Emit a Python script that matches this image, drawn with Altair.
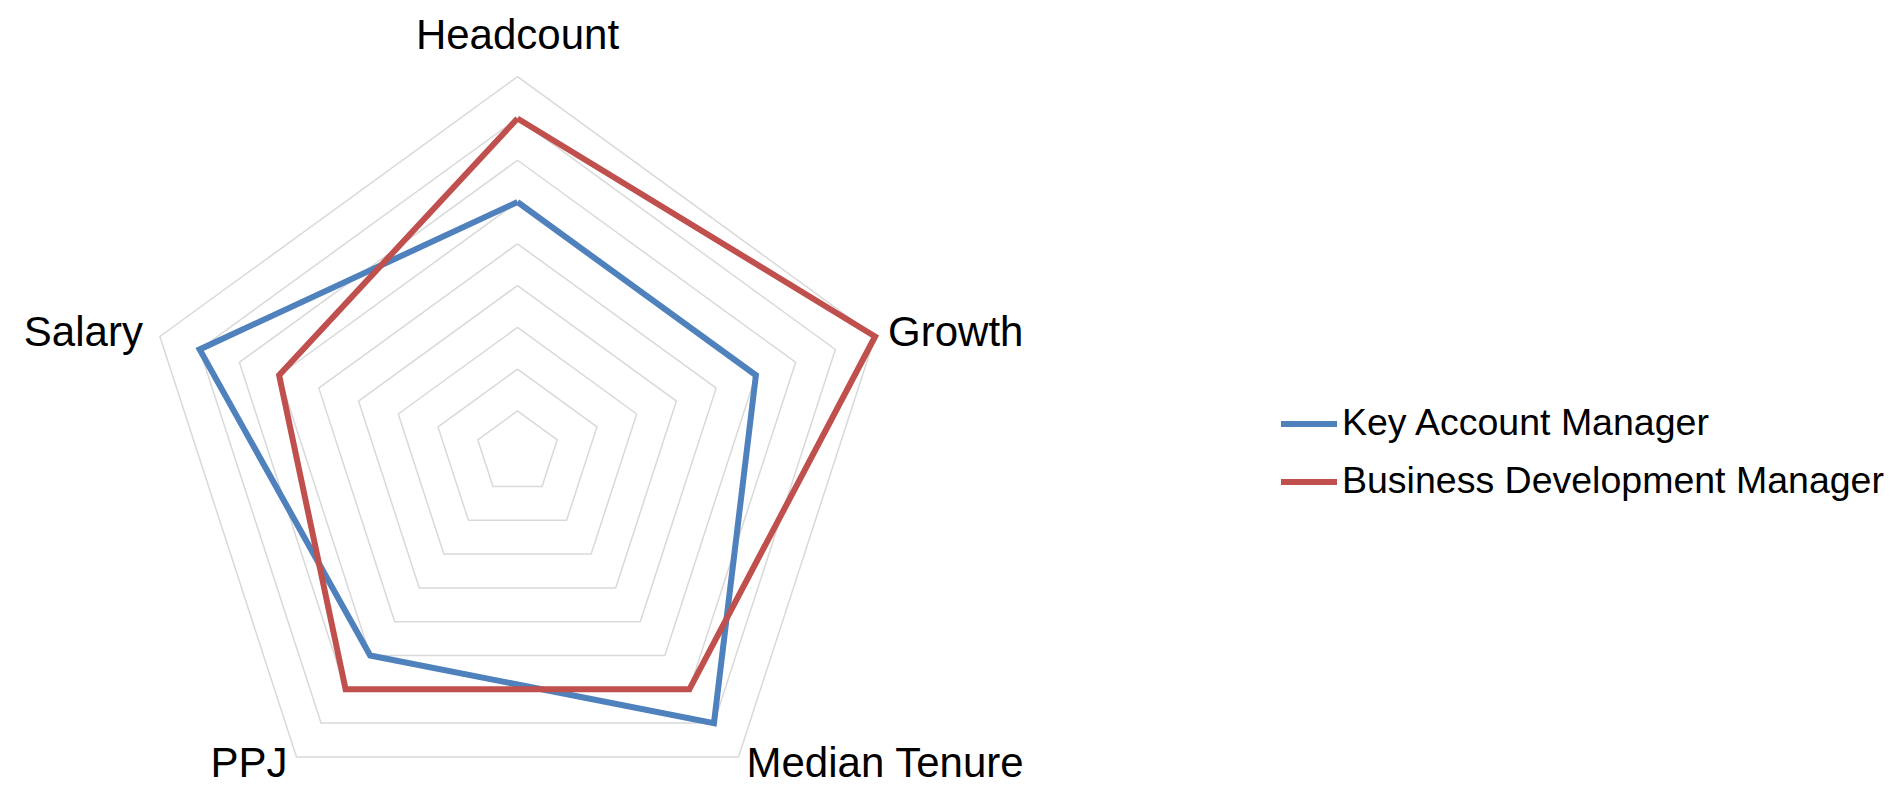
import altair as alt
import pandas as pd

# ---- data ----
axes = ["Headcount", "Growth", "Median Tenure", "PPJ", "Salary"]
series_names = ["Key Account Manager", "Business Development Manager"]
kam_values = [6, 6, 8, 6, 8]
bdm_values = [8, 9, 7, 7, 6]
rings = [1, 2, 3, 4, 5, 6, 7, 8, 9]
colors = ["#4F81BD", "#C0504D"]

n = len(axes)
rows = []
for name, vals in zip(series_names, [kam_values, bdm_values]):
    for i in range(n + 1):
        j = i % n
        rows.append({"series": name, "axis": axes[j], "idx": i, "value": vals[j]})
series_df = pd.DataFrame(rows)

grid_rows = []
for r in rings:
    for i in range(n + 1):
        grid_rows.append({"ring": r, "idx": i, "value": r})
grid_df = pd.DataFrame(grid_rows)

label_df = pd.DataFrame({"axis": axes, "idx": list(range(n)), "value": [max(rings)] * n})

# ---- layout ----
W, H = 1876, 771
CX, CY = 509.5, 444.7
UNIT = 376 / max(rings)
xs = alt.Scale(domain=[-CX / UNIT, (W - CX) / UNIT], nice=False, zero=False)
ys = alt.Scale(domain=[-(H - CY) / UNIT, CY / UNIT], nice=False, zero=False)

FONT = "Liberation Sans"


def polar(data):
    return (
        alt.Chart(data)
        .transform_calculate(ang=f"datum.idx * 2 * PI / {n}")
        .transform_calculate(px="datum.value * sin(datum.ang)", py="datum.value * cos(datum.ang)")
    )


X = alt.X("px:Q", scale=xs, axis=None)
Y = alt.Y("py:Q", scale=ys, axis=None)

grid = polar(grid_df).mark_line(color="#d9d9d9", strokeWidth=1.5).encode(
    x=X, y=Y, detail="ring:N", order="idx:Q"
)

lines = polar(series_df).mark_line(strokeWidth=6, strokeJoin="miter").encode(
    x=X,
    y=Y,
    order="idx:Q",
    color=alt.Color(
        "series:N",
        scale=alt.Scale(domain=series_names, range=colors),
        legend=alt.Legend(
            title=None,
            orient="none",
            legendX=1270,
            legendY=385,
            padding=0,
            labelFont=FONT,
            labelFontSize=37.5,
            labelColor="black",
            labelLimit=1000,
            symbolType="stroke",
            symbolStrokeWidth=6,
            symbolSize=3136,
            labelOffset=2,
            rowPadding=8,
        ),
    ),
)


def label(name, align, dx, dy):
    return (
        polar(label_df)
        .transform_filter(alt.datum.axis == name)
        .mark_text(font=FONT, fontSize=42, color="black", align=align, baseline="alphabetic", dx=dx, dy=dy)
        .encode(x=X, y=Y, text="axis:N")
    )


labels = [
    label("Headcount", "center", 0, -28),
    label("Growth", "left", 13, 9),
    label("Salary", "right", -17, 9),
    label("Median Tenure", "left", 8, 20),
    label("PPJ", "right", -9, 20),
]

chart = (
    alt.layer(grid, lines, *labels)
    .properties(width=W, height=H, padding=0, autosize="none", background="white")
    .configure_view(stroke=None)
)

chart.save("out.html", embed_options={"renderer": "svg", "actions": False})
